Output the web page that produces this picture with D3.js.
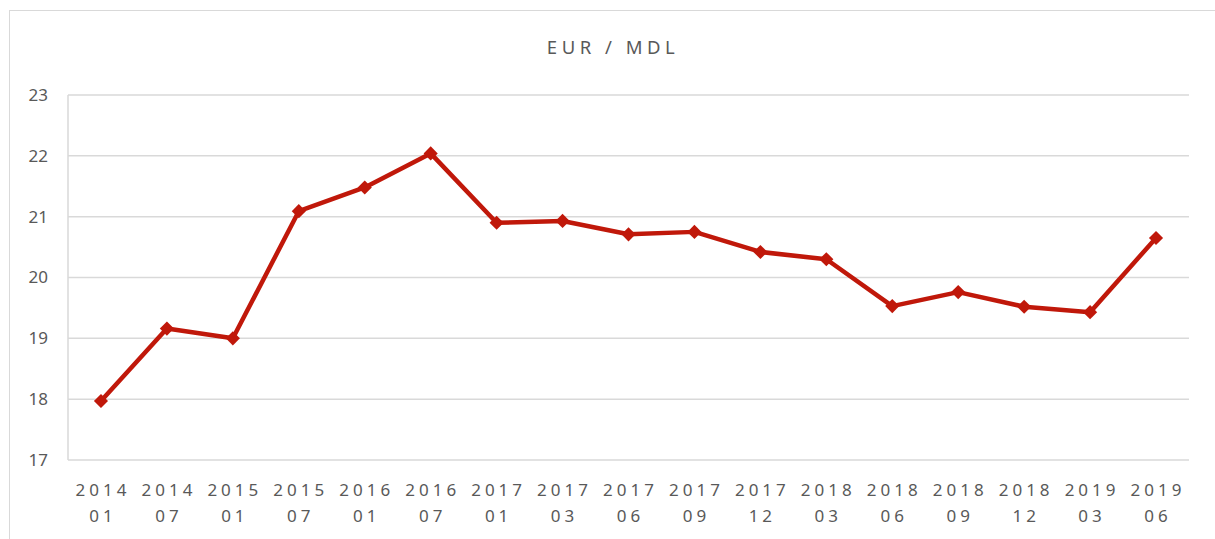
<!DOCTYPE html>
<html>
<head>
<meta charset="utf-8">
<script src="https://cdn.jsdelivr.net/npm/d3@7"></script>
<style>
body { margin: 0; background: #fff; }
text { font-family: "Noto Sans", "Open Sans", sans-serif; fill: #595959; }
</style>
</head>
<body>
<div id="chart"></div>
<script>
var years = ["2014","2014","2015","2015","2016","2016","2017","2017","2017","2017","2017","2018","2018","2018","2018","2019","2019"];
var months = ["01","07","01","07","01","07","01","03","06","09","12","03","06","09","12","03","06"];
var rates = [17.97, 19.16, 19.0, 21.09, 21.48, 22.04, 20.9, 20.93, 20.71, 20.75, 20.42, 20.3, 19.53, 19.76, 19.52, 19.43, 20.65];
var yTicks = [17, 18, 19, 20, 21, 22, 23];

var margin = { top: 95, bottom: 79, right: 26, left: 68 };
var width = 1215, height = 539;
var w = width - margin.left - margin.right;
var h = height - margin.top - margin.bottom;

var svg = d3.select("#chart").append("svg")
    .attr("width", width)
    .attr("height", height);

svg.append("rect")
    .attr("x", 9.5).attr("y", 10.5)
    .attr("width", width).attr("height", height)
    .attr("fill", "none")
    .attr("stroke", "#d9d9d9");

svg.append("text")
    .attr("x", 613).attr("y", 54)
    .attr("text-anchor", "middle")
    .style("font-size", "18.5px")
    .style("letter-spacing", "4.5px")
    .text("EUR / MDL");

var g = svg.append("g").attr("transform", `translate(${margin.left},${margin.top})`);

var idx = d3.range(rates.length);
var x = d3.scaleBand().domain(idx).range([0, w]);
var y = d3.scaleLinear().domain([17, 23]).range([h, 0]);

g.selectAll(".grid").data(yTicks).enter()
    .append("line")
    .attr("x1", 0).attr("x2", w)
    .attr("y1", d => y(d)).attr("y2", d => y(d))
    .attr("stroke", "#d9d9d9")
    .attr("stroke-width", 1.5);

g.append("line")
    .attr("x1", 0).attr("x2", 0)
    .attr("y1", 0).attr("y2", h)
    .attr("stroke", "#d9d9d9")
    .attr("stroke-width", 1.5);

g.selectAll(".ylab").data(yTicks).enter()
    .append("text")
    .attr("x", -20)
    .attr("y", d => y(d))
    .attr("dy", "0.35em")
    .attr("text-anchor", "end")
    .style("font-size", "17px")
    .text(d => d);

var xl = g.selectAll(".xlab").data(idx).enter()
    .append("text")
    .attr("text-anchor", "middle")
    .style("font-size", "17px")
    .style("letter-spacing", "4px");
xl.append("tspan")
    .attr("x", d => x(d) + x.bandwidth() / 2 + 2)
    .attr("y", h + 36)
    .text(d => years[d]);
xl.append("tspan")
    .attr("x", d => x(d) + x.bandwidth() / 2 + 2)
    .attr("y", h + 62)
    .text(d => months[d]);

var line = d3.line()
    .x(d => x(d) + x.bandwidth() / 2)
    .y(d => y(rates[d]));

g.append("path")
    .datum(idx)
    .attr("d", line)
    .attr("fill", "none")
    .attr("stroke", "#c0180a")
    .attr("stroke-width", 4.5)
    .attr("stroke-linejoin", "round");

g.selectAll(".pt").data(idx).enter()
    .append("path")
    .attr("d", d3.symbol().type(d3.symbolSquare).size(100))
    .attr("transform", d => `translate(${x(d) + x.bandwidth() / 2},${y(rates[d])}) rotate(45)`)
    .attr("fill", "#c0180a");
</script>
</body>
</html>
